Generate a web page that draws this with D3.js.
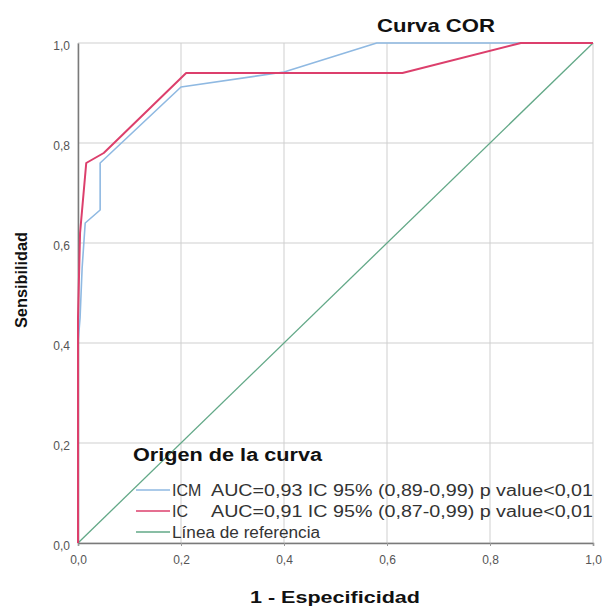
<!DOCTYPE html>
<html><head><meta charset="utf-8">
<script src="https://cdn.jsdelivr.net/npm/d3@7"></script>
<style>body{margin:0;background:#fff}svg{display:block}</style>
</head><body>
<script>
// ---- data ----
const tickValues = [0, 0.2, 0.4, 0.6, 0.8, 1.0];
const icmFpr = [0, 0, 0.004, 0.008, 0.014, 0.043, 0.043, 0.2, 0.4, 0.58, 1];
const icmSens = [0, 0.40, 0.45, 0.55, 0.64, 0.666, 0.76, 0.912, 0.942, 1, 1];
const icFpr = [0, 0, 0.004, 0.016, 0.05, 0.21, 0.63, 0.86, 1];
const icSens = [0, 0.45, 0.62, 0.76, 0.78, 0.94, 0.94, 1, 1];
const refFpr = [0, 1];
const refSens = [0, 1];
const legendLabels = ["ICM", "IC", "Línea de referencia"];
const legendDetails = ["AUC=0,93 IC 95% (0,89-0,99) p value<0,01", "AUC=0,91 IC 95% (0,87-0,99) p value<0,01", ""];
const colors = ["#8fb9e2", "#dc3f6c", "#62a887"];

const W = 608, H = 610;
const svg = d3.select("body").append("svg").attr("width", W).attr("height", H)
  .style("font-family", "'Liberation Sans', Arial, sans-serif");

const x = d3.scaleLinear().domain([0, 1]).range([78, 593]);
const y = d3.scaleLinear().domain([0, 1]).range([543, 43]);
const fmt = v => d3.format(".1f")(v).replace(".", ",");

// gridlines
svg.append("g").selectAll("line.v").data(tickValues).join("line")
  .attr("x1", d => x(d)).attr("x2", d => x(d)).attr("y1", y(0)).attr("y2", y(1))
  .attr("stroke", "#cfcfcf").attr("stroke-width", 1);
svg.append("g").selectAll("line.h").data(tickValues).join("line")
  .attr("x1", x(0)).attr("x2", x(1)).attr("y1", d => y(d)).attr("y2", d => y(d))
  .attr("stroke", "#cfcfcf").attr("stroke-width", 1);

// axes
const xAxis = svg.append("g").attr("transform", `translate(0,${y(0)})`)
  .call(d3.axisBottom(x).tickValues(tickValues).tickFormat(fmt).tickSize(3).tickPadding(9));
const yAxis = svg.append("g").attr("transform", `translate(${x(0)},0)`)
  .call(d3.axisLeft(y).tickValues(tickValues).tickFormat(fmt).tickSize(0).tickPadding(8));
[xAxis, yAxis].forEach(a => {
  a.select(".domain").attr("stroke", "#7a7a7a").attr("stroke-width", 1.5);
  a.selectAll(".tick line").attr("stroke", "#9a9a9a");
  a.selectAll(".tick text").attr("fill", "#555").style("font-size", "12px")
    .style("font-family", "'Liberation Sans', Arial, sans-serif");
});
yAxis.selectAll(".tick text").attr("dy", "0.55em");

// curves
const line = d3.line().x(d => x(d[0])).y(d => y(d[1]));
const series = [
  {fx: refFpr, sy: refSens, c: colors[2], w: 1.3},
  {fx: icmFpr, sy: icmSens, c: colors[0], w: 1.6},
  {fx: icFpr, sy: icSens, c: colors[1], w: 2}
];
series.forEach(s => {
  svg.append("path").datum(s.fx.map((v, i) => [v, s.sy[i]]))
    .attr("d", line).attr("fill", "none").attr("stroke", s.c)
    .attr("stroke-width", s.w).attr("stroke-linejoin", "round");
});

// titles
svg.append("text").attr("x", 377).attr("y", 32).text("Curva COR")
  .attr("font-weight", "bold").style("font-size", "19px").attr("fill", "#111")
  .attr("textLength", 118).attr("lengthAdjust", "spacingAndGlyphs");
svg.append("text").attr("x", 335).attr("y", 603).attr("text-anchor", "middle").text("1 - Especificidad")
  .attr("font-weight", "bold").style("font-size", "17px").attr("fill", "#111")
  .attr("textLength", 170).attr("lengthAdjust", "spacingAndGlyphs");
svg.append("text").attr("transform", "translate(27,280) rotate(-90)").attr("text-anchor", "middle")
  .text("Sensibilidad").attr("font-weight", "bold").style("font-size", "17px").attr("fill", "#111")
  .attr("textLength", 96).attr("lengthAdjust", "spacingAndGlyphs");

// legend
const lg = svg.append("g");
lg.append("text").attr("x", 133).attr("y", 461).text("Origen de la curva")
  .attr("font-weight", "bold").style("font-size", "18px").attr("fill", "#111")
  .attr("textLength", 189).attr("lengthAdjust", "spacingAndGlyphs");
const rowsY = [490, 511, 532];
const legendColors = [colors[0], colors[1], colors[2]];
legendLabels.forEach((lab, i) => {
  const yy = rowsY[i];
  lg.append("line").attr("x1", 136).attr("x2", 170).attr("y1", yy).attr("y2", yy)
    .attr("stroke", legendColors[i]).attr("stroke-width", 1.5);
  const t = lg.append("text").attr("x", 172).attr("y", yy + 6).text(lab)
    .style("font-size", "16px").attr("fill", "#333");
  if (i === 2) t.attr("textLength", 148).attr("lengthAdjust", "spacingAndGlyphs");
  if (legendDetails[i]) {
    lg.append("text").attr("x", 211).attr("y", yy + 6).text(legendDetails[i])
      .style("font-size", "16px").attr("fill", "#333")
      .attr("textLength", 382).attr("lengthAdjust", "spacingAndGlyphs");
  }
});
</script>
</body></html>
